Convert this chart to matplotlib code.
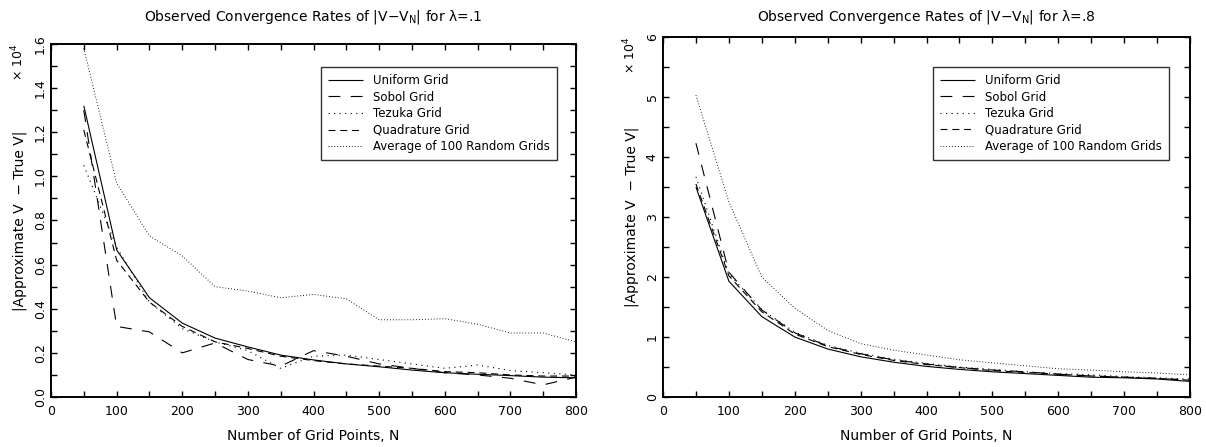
import matplotlib.pyplot as plt
from matplotlib.ticker import MultipleLocator, FormatStrFormatter

plt.rcParams['font.family'] = ['DejaVu Sans']
plt.rcParams['lines.scale_dashes'] = False

# grid sizes
N = [50, 100, 150, 200, 250, 300, 350, 400, 450, 500, 550, 600, 650, 700, 750, 800]

# lambda = .1  (values x 10^4)
uniform_1 = [1.32, 0.667, 0.45, 0.335, 0.267, 0.227, 0.19, 0.168, 0.15, 0.137, 0.122, 0.11, 0.103, 0.097, 0.09, 0.087]
sobol_1 = [1.30, 0.32, 0.295, 0.20, 0.245, 0.17, 0.14, 0.21, 0.185, 0.15, 0.13, 0.11, 0.10, 0.085, 0.055, 0.09]
tezuka_1 = [1.05, 0.68, 0.43, 0.31, 0.25, 0.21, 0.13, 0.185, 0.19, 0.17, 0.15, 0.13, 0.145, 0.12, 0.11, 0.10]
quad_1 = [1.21, 0.62, 0.43, 0.32, 0.25, 0.22, 0.185, 0.165, 0.15, 0.14, 0.13, 0.115, 0.11, 0.10, 0.095, 0.095]
random_1 = [1.58, 0.97, 0.73, 0.64, 0.50, 0.48, 0.45, 0.465, 0.445, 0.35, 0.35, 0.355, 0.33, 0.29, 0.29, 0.25]

# lambda = .8
uniform_8 = [3.50, 1.93, 1.34, 1.00, 0.80, 0.67, 0.58, 0.51, 0.46, 0.42, 0.39, 0.36, 0.33, 0.32, 0.30, 0.26]
sobol_8 = [4.23, 2.08, 1.45, 1.07, 0.85, 0.72, 0.62, 0.55, 0.49, 0.45, 0.42, 0.38, 0.35, 0.33, 0.31, 0.28]
tezuka_8 = [3.67, 2.05, 1.46, 1.08, 0.86, 0.73, 0.63, 0.56, 0.50, 0.46, 0.42, 0.39, 0.37, 0.34, 0.32, 0.30]
quad_8 = [3.55, 2.02, 1.42, 1.05, 0.84, 0.71, 0.61, 0.54, 0.49, 0.44, 0.41, 0.38, 0.35, 0.33, 0.31, 0.28]
random_8 = [5.03, 3.25, 2.00, 1.48, 1.11, 0.89, 0.78, 0.70, 0.62, 0.57, 0.52, 0.47, 0.45, 0.42, 0.40, 0.37]

labels = ['Uniform Grid', 'Sobol Grid', 'Tezuka Grid', 'Quadrature Grid', 'Average of 100 Random Grids']
titles = ['Observed Convergence Rates of |V\u2212V$_{\\rm N}$| for \u03bb=.1',
          'Observed Convergence Rates of |V\u2212V$_{\\rm N}$| for \u03bb=.8']

styles = [(0, ()), (0, (8.5, 7.5)), (0, (0.8, 3.2)), (0, (5, 3.5)), (0, (0.6, 1.5))]
widths = [0.8, 0.8, 0.8, 0.8, 0.7]

W, H = 1206, 447
fig = plt.figure(figsize=(W / 100, H / 100), dpi=100)

# axes boxes in pixels: left, top, right, bottom
boxes = [(51, 44, 576, 397), (663, 37, 1190, 397)]
ax_list = []
for (l, t, r, b) in boxes:
    ax_list.append(fig.add_axes([l / W, 1 - b / H, (r - l) / W, (b - t) / H]))


def draw(ax, series, ymax, ymaj, ymin, yfmt, leg_xy, box, title):
    for s, ls, lw, lab in zip(series, styles, widths, labels):
        ax.plot(N, s, color='black', lw=lw, linestyle=ls, label=lab)
    ax.set_xlim(0, 800)
    ax.set_ylim(0, ymax)
    ax.xaxis.set_major_locator(MultipleLocator(100))
    ax.xaxis.set_minor_locator(MultipleLocator(50))
    ax.yaxis.set_major_locator(MultipleLocator(ymaj))
    ax.yaxis.set_minor_locator(MultipleLocator(ymin))
    ax.yaxis.set_major_formatter(FormatStrFormatter(yfmt))
    ax.tick_params(which='both', direction='in', length=4.3, width=1,
                   top=True, right=True, labelsize=9)
    ax.tick_params(axis='x', pad=6)
    ax.tick_params(axis='y', labelrotation=90, pad=3)
    for lab in ax.get_yticklabels():
        lab.set_va('center')
    for sp in ax.spines.values():
        sp.set_linewidth(1.4)
    leg = ax.legend(loc='upper left', bbox_to_anchor=leg_xy, borderaxespad=0,
                    fontsize=8.5, frameon=True, fancybox=False, handlelength=3.0,
                    handletextpad=0.8, labelspacing=0.3, borderpad=0.6)
    leg.get_frame().set_edgecolor('black')
    leg.get_frame().set_linewidth(1.0)

    l, t, r, b = box
    cx = (l + r) / 2 / W
    fig.text(cx, 1 - 17 / H, title, ha='center', va='center', fontsize=10)
    fig.text(cx, 1 - 436 / H, 'Number of Grid Points, N', ha='center', va='center', fontsize=10)
    fig.text((l - 31) / W, 1 - (t + b) / 2 / H, '|Approximate V  \u2212 True V|',
             rotation=90, ha='center', va='center', fontsize=10)
    fig.text((l - 33) / W, 1 - (t + 18) / H, '\u00d7 10$^4$', rotation=90,
             ha='center', va='center', fontsize=9)


draw(ax_list[0], [uniform_1, sobol_1, tezuka_1, quad_1, random_1], 1.6, 0.2, 0.1, '%.1f',
     (0.514, 0.935), boxes[0], titles[0])
draw(ax_list[1], [uniform_8, sobol_8, tezuka_8, quad_8, random_8], 6, 1, 0.5, '%d',
     (0.512, 0.917), boxes[1], titles[1])

fig.savefig('out.png', dpi=100)
